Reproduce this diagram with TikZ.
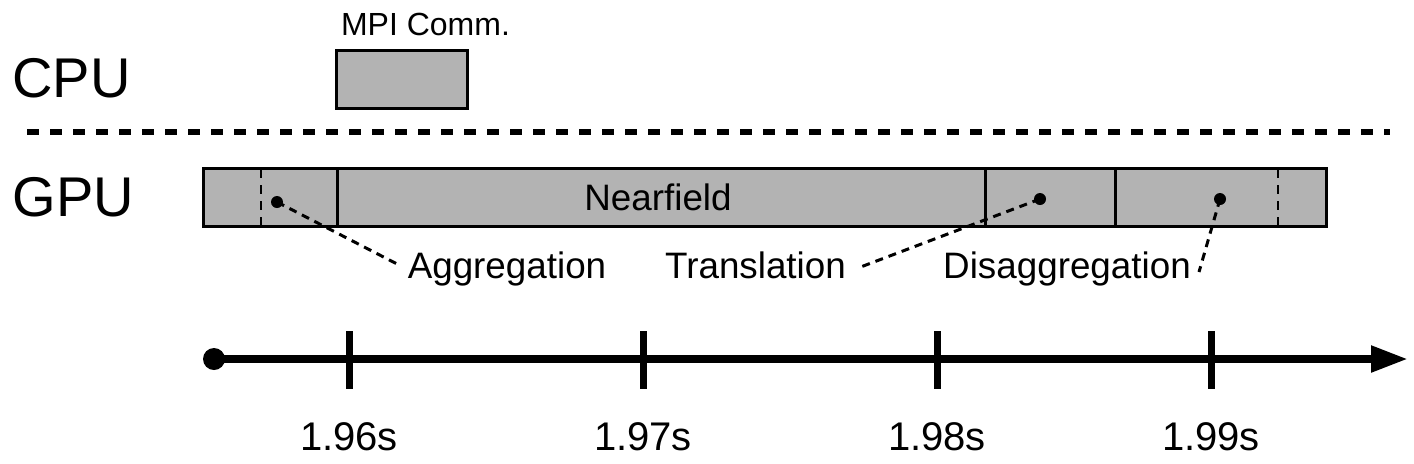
\documentclass[tikz,border=0pt]{standalone}
\usepackage{fontspec}
\setmainfont{Liberation Sans}
\usetikzlibrary{arrows.meta,positioning}

\definecolor{barfill}{RGB}{179,179,179}

\tikzset{
	seg/.style={rectangle, draw, line width=1.5pt, fill=barfill, inner sep=0pt, minimum height=29pt},
	pin/.style={circle, fill, inner sep=0pt, minimum size=6pt},
	lbl/.style={anchor=base, inner sep=0pt, font=\fontsize{18.4}{20}\selectfont},
	leader/.style={line width=1.5pt, dash pattern=on 4pt off 3pt},
	split/.style={line width=1.4pt, dash pattern=on 4.5pt off 3.5pt}
}

\begin{document}
\begin{tikzpicture}[x=0.5pt, y=-0.5pt]
	\useasboundingbox (0,0) rectangle (1414,463);

	% CPU row
	\node[anchor=base, inner sep=0pt, font=\fontsize{28}{30}\selectfont] (cpu) at (71.5,97) {CPU};
	\node[seg, minimum width=65.5pt] (mpi) at (401.5,79) {};
	\node[anchor=base, inner sep=0pt, font=\fontsize{16}{18}\selectfont] (mpilbl) at (425.5,35) {MPI Comm.};

	\draw[line width=3pt, dash pattern=on 6pt off 5.5pt] (27,132) -- (1390,132);

	% GPU row
	\node[anchor=base, inner sep=0pt, font=\fontsize{28}{30}\selectfont] (gpu) at (73.5,216) {GPU};
	\node[seg, minimum width=67pt] (agg) at (270,197) {};
	\node[seg, minimum width=324pt] (near) at (661,197) {};
	\node[seg, minimum width=65pt] (trans) at (1050,197) {};
	\node[seg, minimum width=105.5pt] (disagg) at (1220.5,197) {};
	\node[lbl] (nearlbl) at (658,210) {Nearfield};

	\draw[split] (261,169) -- (261,225); % end of aggregation
	\draw[split] (1278,169) -- (1278,225); % start of disaggregation

	\node[pin] (aggpin) at (277,202) {};
	\node[pin] (transpin) at (1040,199) {};
	\node[pin] (disaggpin) at (1220,199) {};

	\node[lbl] (agglbl) at (507,278) {Aggregation};
	\node[lbl] (translbl) at (755.5,278) {Translation};
	\node[lbl] (disagglbl) at (1067,278) {Disaggregation};

	\coordinate (aggend) at (401,266);
	\coordinate (transend) at (858,268);
	\coordinate (disaggend) at (1199,272);
	\draw[leader] (aggpin.center) -- (aggend);
	\draw[leader] (transpin.center) -- (transend);
	\draw[leader] (disaggpin.center) -- (disaggend);

	% time axis
	\node[circle, fill, inner sep=0pt, minimum size=11pt] (t0) at (214,359) {};
	\coordinate (tend) at (1408,359);
	\draw[line width=4pt, -{Triangle[length=18.5pt, width=12.5pt]}] (t0.center) -- (tend);
	\foreach \x/\t [count=\i] in {349/1.96s, 643/1.97s, 937/1.98s, 1211/1.99s} {
		\draw[line width=3.5pt] (\x,331) -- (\x,389);
		\node[anchor=base, inner sep=0pt, font=\fontsize{20}{22}\selectfont] (tick\i) at (\x,450) {\t};
	}
\end{tikzpicture}
\end{document}
